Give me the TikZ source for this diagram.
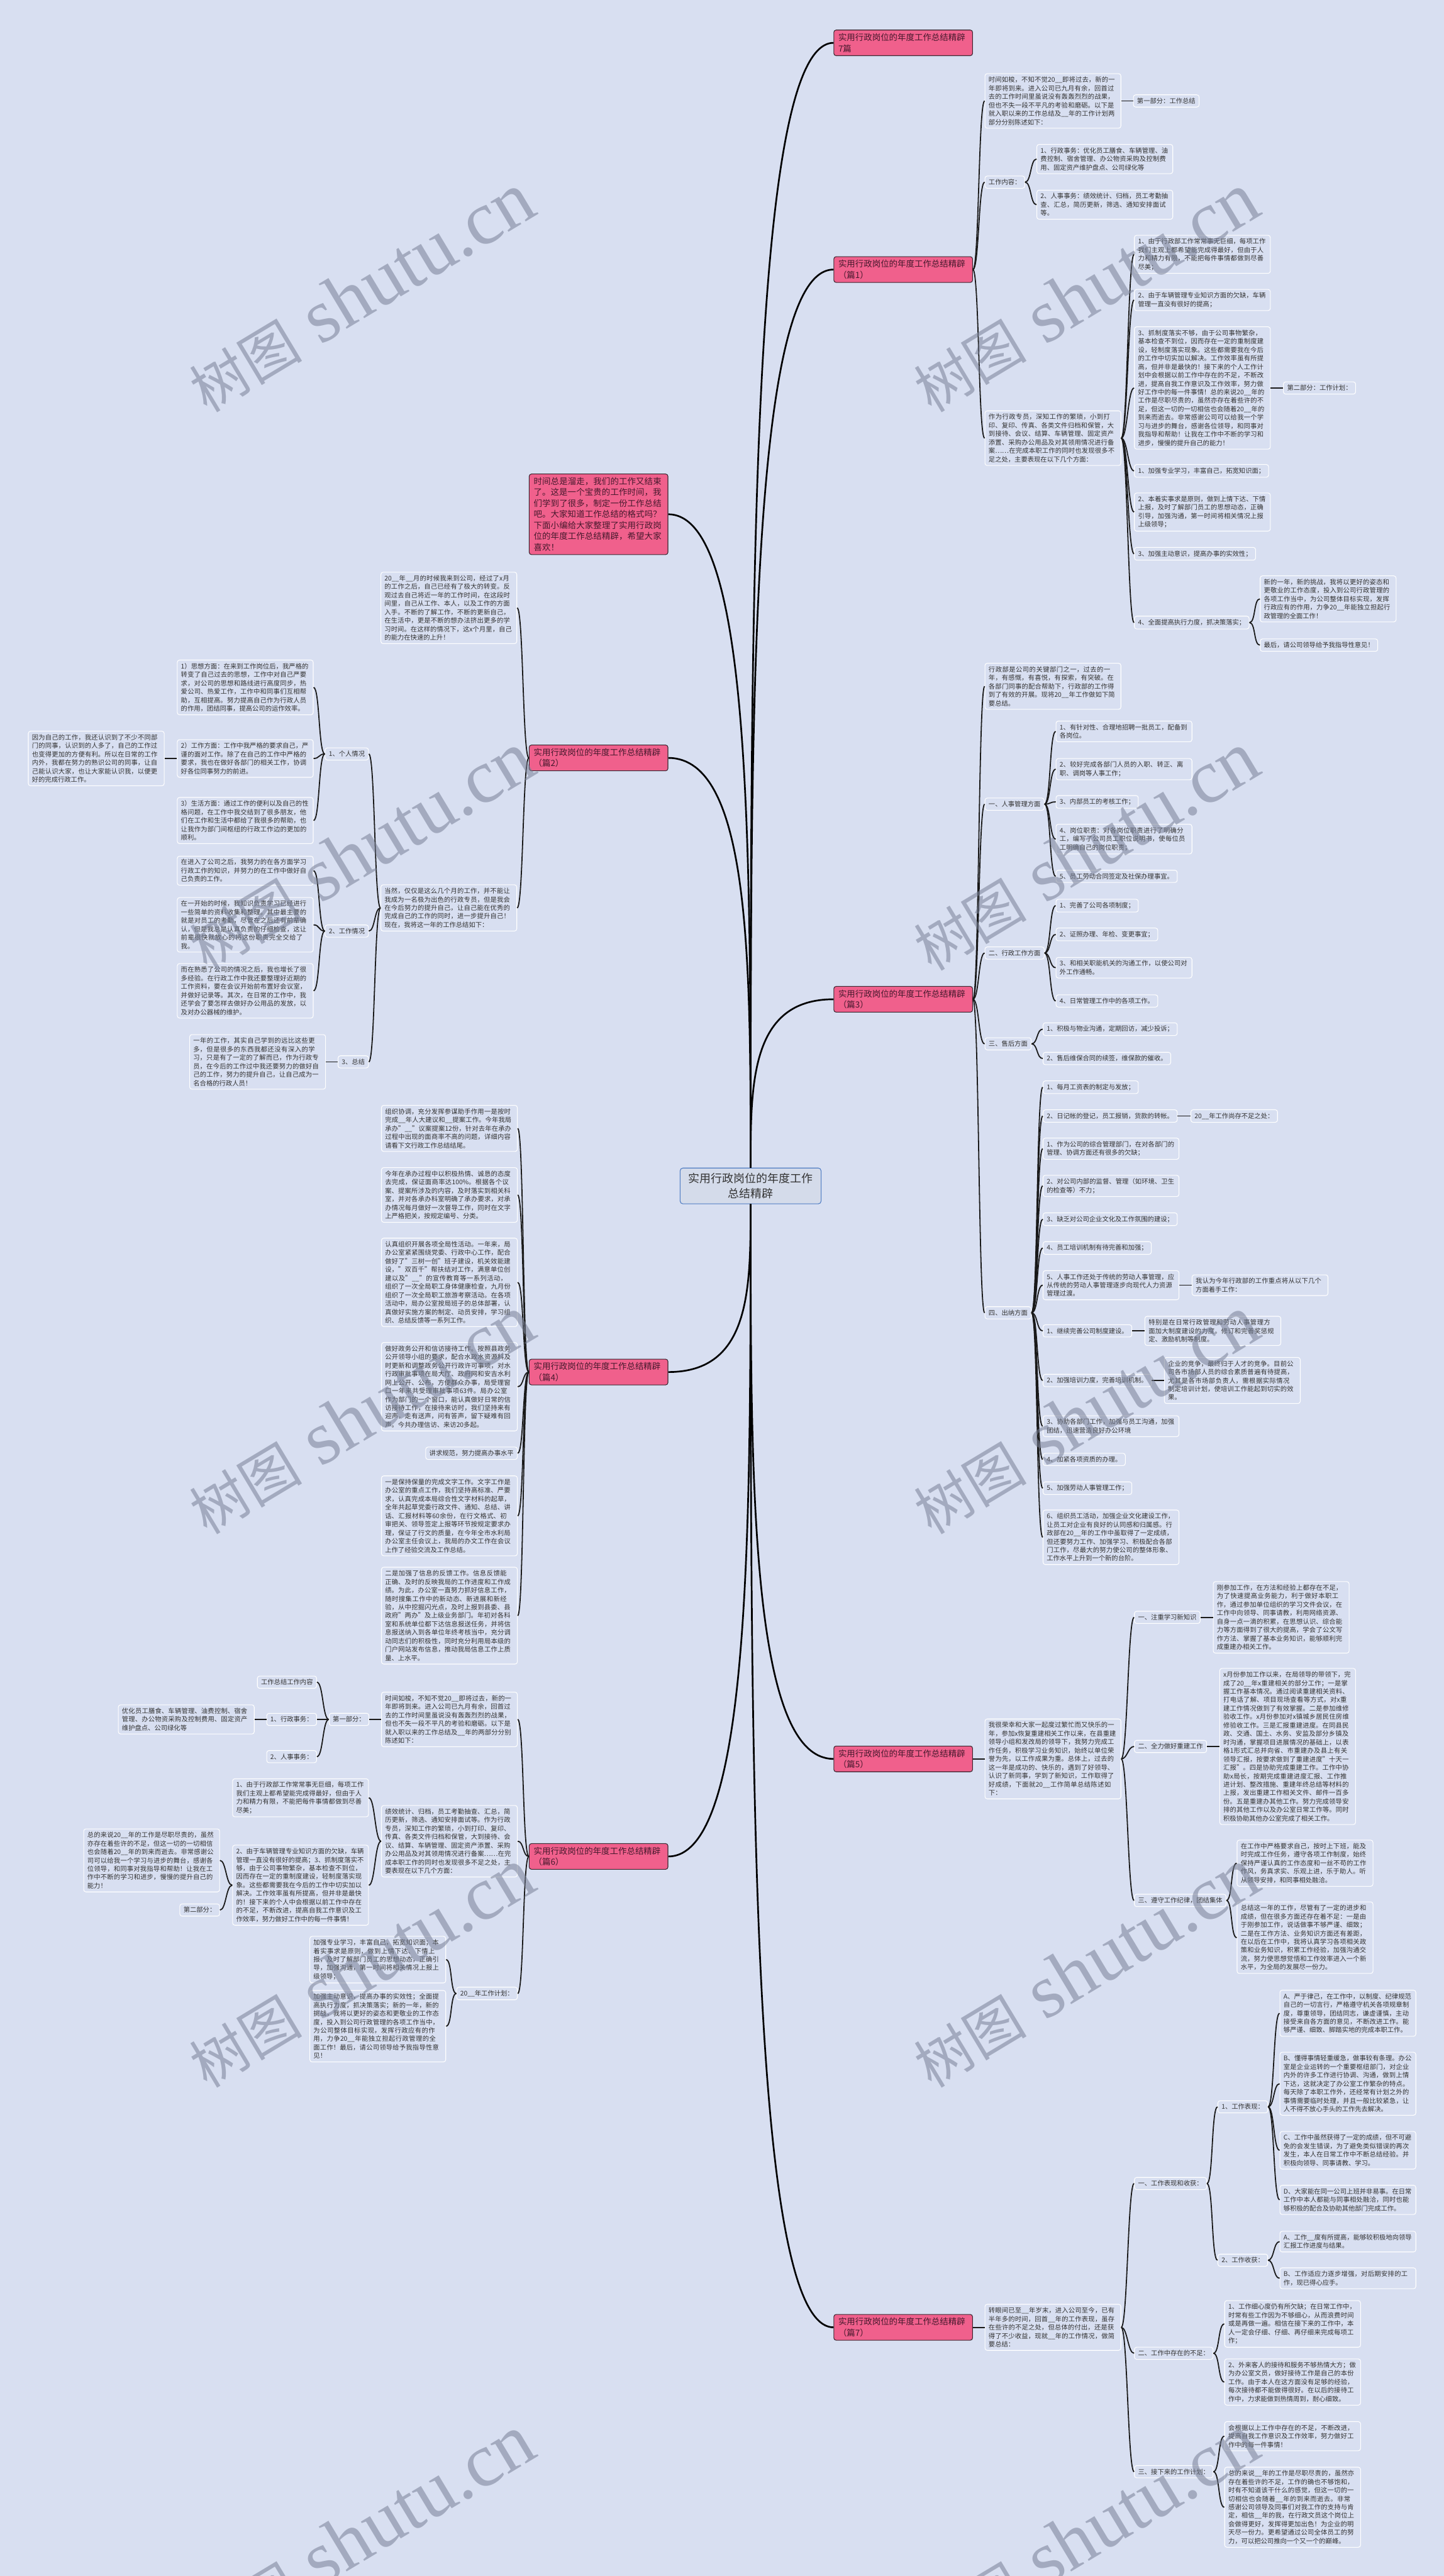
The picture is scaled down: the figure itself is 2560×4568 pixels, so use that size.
\documentclass[tikz,border=0pt]{standalone}
\usepackage{fontspec}
\setmainfont{Noto Sans CJK SC}
\newfontfamily\wmfont{Liberation Serif}
\usetikzlibrary{positioning}
\XeTeXlinebreaklocale "zh"
\XeTeXlinebreakskip=0pt plus 1pt

\definecolor{bgcol}{RGB}{216,223,241}
\definecolor{pinkc}{RGB}{240,96,140}
\definecolor{hdrline}{RGB}{60,40,50}
\definecolor{hdrtext}{RGB}{70,25,45}
\definecolor{rootfill}{RGB}{212,219,234}
\definecolor{rootline}{RGB}{80,125,195}
\definecolor{txt}{RGB}{51,51,51}
\definecolor{wmcol}{RGB}{120,128,150}

\tikzset{hdrbox/.style = {rectangle, rounded corners=4pt, draw=hdrline, line width=1.2pt,
                          fill=pinkc, text=hdrtext, text width=230pt, align=left,
                          inner xsep=8pt, inner ysep=6pt, font=\fontsize{15}{19.5}\selectfont}}
\tikzset{rootbox/.style = {rectangle, rounded corners=5pt, draw=rootline, line width=1.2pt,
                           fill=rootfill, text=txt, align=center, inner xsep=15pt, inner ysep=9pt,
                           font=\fontsize{20}{27}\selectfont}}
\tikzset{tagbox/.style = {rectangle, rounded corners=4pt, draw=white, line width=1.2pt,
                          fill=bgcol, text=txt, inner xsep=6.5pt, inner ysep=5.5pt,
                          font=\fontsize{11.5}{15}\selectfont}}
\tikzset{leafbox/.style = {tagbox, text width=228pt, align=left}}
\tikzset{linkline/.style = {line width=2pt, draw=black!90}}
\tikzset{trunkline/.style = {line width=3pt, draw=black}}
\tikzset{wmark/.style = {rotate=31, text=wmcol, opacity=0.55, inner sep=0pt}}

\begin{document}
\begin{tikzpicture}[x=1pt, y=-1pt]
      \fill [bgcol] (0, 0) rectangle (2560, 4568);
      \useasboundingbox (0, 0) rectangle (2560, 4568);

      \node [rootbox] (root) at (1331, 2103) {实用行政岗位的年度工作\\总结精辟};

      \node [hdrbox, anchor=west] (h0) at (1478, 76) {实用行政岗位的年度工作总结精辟\\7篇};
      \node [hdrbox, anchor=west] (h1) at (1478, 478) {实用行政岗位的年度工作总结精辟\\（篇1）};
      \node [hdrbox, anchor=west] (h3) at (1478, 1772) {实用行政岗位的年度工作总结精辟\\（篇3）};
      \node [hdrbox, anchor=west] (h5) at (1478, 3119) {实用行政岗位的年度工作总结精辟\\（篇5）};
      \node [hdrbox, anchor=west] (h7) at (1478, 4127) {实用行政岗位的年度工作总结精辟\\（篇7）};
      \node [hdrbox, anchor=east] (intro) at (1185, 912) {时间总是溜走，我们的工作又结束了。这是一个宝贵的工作时间，我们学到了很多，制定一份工作总结吧。大家知道工作总结的格式吗？下面小编给大家整理了实用行政岗位的年度工作总结精辟，希望大家喜欢！};
      \node [hdrbox, anchor=east] (h2) at (1185, 1344) {实用行政岗位的年度工作总结精辟\\（篇2）};
      \node [hdrbox, anchor=east] (h4) at (1185, 2433) {实用行政岗位的年度工作总结精辟\\（篇4）};
      \node [hdrbox, anchor=east] (h6) at (1185, 3292) {实用行政岗位的年度工作总结精辟\\（篇6）};

      % 篇1
      \node [leafbox, anchor=west] (a1) at (1746, 179) {时间如梭，不知不觉20\_\_即将过去，新的一年即将到来。进入公司已九月有余，回首过去的工作时间里虽说没有轰轰烈烈的战果，但也不失一段不平凡的考验和磨砺。以下是就入职以来的工作总结及\_\_年的工作计划两部分分别陈述如下：};
      \node [tagbox, right=21pt of a1] (a1x) {第一部分：工作总结};
      \node [tagbox, anchor=west] (b1) at (1746, 323) {工作内容：};
      \node [leafbox, anchor=west] (b1a) at (1838, 282) {1、行政事务：优化员工膳食、车辆管理、油费控制、宿舍管理、办公物资采购及控制费用、固定资产维护盘点、公司绿化等};
      \node [leafbox, anchor=west] (b1b) at (1838, 363) {2、人事事务：绩效统计、归档，员工考勤抽查、汇总，简历更新，筛选、通知安排面试等。};
      \node [leafbox, anchor=west] (c1) at (1746, 777) {作为行政专员，深知工作的繁琐，小到打印、复印、传真、各类文件归档和保管，大到接待、会议、结算、车辆管理、固定资产添置、采购办公用品及对其领用情况进行备案……在完成本职工作的同时也发现很多不足之处，主要表现在以下几个方面：};
      \node [leafbox, anchor=west] (c1a) at (2011, 451) {1、由于行政部工作常常事无巨细，每项工作我们主观上都希望能完成得最好，但由于人力和精力有限，不能把每件事情都做到尽善尽美；};
      \node [leafbox, anchor=west] (c1b) at (2011, 532) {2、由于车辆管理专业知识方面的欠缺，车辆管理一直没有很好的提高；};
      \node [leafbox, anchor=west] (c1c) at (2011, 688) {3、抓制度落实不够，由于公司事物繁杂，基本检查不到位，因而存在一定的重制度建设，轻制度落实现象。这些都需要我在今后的工作中切实加以解决。工作效率虽有所提高，但并非是最快的！接下来的个人工作计划中会根据以前工作中存在的不足，不断改进，提高自我工作意识及工作效率，努力做好工作中的每一件事情！总的来说20\_\_年的工作是尽职尽责的，虽然亦存在着些许的不足，但这一切的一切相信也会随着20\_\_年的到来而逝去。非常感谢公司可以给我一个学习与进步的舞台，感谢各位领导，和同事对我指导和帮助！让我在工作中不断的学习和进步，慢慢的提升自己的能力！};
      \node [tagbox, right=22pt of c1c] (c1cx) {第二部分：工作计划：};
      \node [tagbox, anchor=west] (c1d) at (2011, 835) {1、加强专业学习，丰富自己，拓宽知识面；};
      \node [leafbox, anchor=west] (c1e) at (2011, 908) {2、本着实事求是原则，做到上情下达、下情上报，及时了解部门员工的思想动态，正确引导，加强沟通，第一时间将相关情况上报上级领导；};
      \node [tagbox, anchor=west] (c1f) at (2011, 982) {3、加强主动意识，提高办事的实效性；};
      \node [tagbox, anchor=west] (c1g) at (2011, 1104) {4、全面提高执行力度，抓决策落实；};
      \node [leafbox, anchor=west] (c1ga) at (2234, 1062) {新的一年，新的挑战，我将以更好的姿态和更敬业的工作态度，投入到公司行政管理的各项工作当中，为公司整体目标实现，发挥行政应有的作用，力争20\_\_年能独立担起行政管理的全面工作！};
      \node [tagbox, anchor=west] (c1gb) at (2234, 1144) {最后，请公司领导给予我指导性意见！};

      % 篇3
      \node [leafbox, anchor=west] (a3) at (1746, 1217) {行政部是公司的关键部门之一，过去的一年，有感慨，有喜悦，有探索，有突破。在各部门同事的配合帮助下，行政部的工作得到了有效的开展。现将20\_\_年工作做如下简要总结。};
      \node [tagbox, anchor=west] (b3) at (1746, 1426) {一、人事管理方面};
      \node [leafbox, anchor=west] (b3a) at (1872, 1297) {1、有针对性、合理地招聘一批员工，配备到各岗位。};
      \node [leafbox, anchor=west] (b3b) at (1872, 1364) {2、较好完成各部门人员的入职、转正、离职、调岗等人事工作；};
      \node [tagbox, anchor=west] (b3c) at (1872, 1422) {3、内部员工的考核工作；};
      \node [leafbox, anchor=west] (b3d) at (1872, 1488) {4、岗位职责：对各岗位职责进行了明确分工，编写了公司员工职位说明书，使每位员工明确自己的岗位职责；};
      \node [tagbox, anchor=west] (b3e) at (1872, 1554) {5、员工劳动合同签定及社保办理事宜。};
      \node [tagbox, anchor=west] (c3) at (1746, 1690) {二、行政工作方面};
      \node [tagbox, anchor=west] (c3a) at (1872, 1606) {1、完善了公司各项制度；};
      \node [tagbox, anchor=west] (c3b) at (1872, 1657) {2、证照办理、年检、变更事宜；};
      \node [leafbox, anchor=west] (c3c) at (1872, 1716) {3、和相关职能机关的沟通工作，以使公司对外工作通畅。};
      \node [tagbox, anchor=west] (c3d) at (1872, 1775) {4、日常管理工作中的各项工作。};
      \node [tagbox, anchor=west] (d3) at (1746, 1851) {三、售后方面};
      \node [tagbox, anchor=west] (d3a) at (1849, 1825) {1、积极与物业沟通，定期回访，减少投诉；};
      \node [tagbox, anchor=west] (d3b) at (1849, 1877) {2、售后维保合同的续签，维保款的催收。};
      \node [tagbox, anchor=west] (e3) at (1746, 2328) {四、出纳方面};
      \node [tagbox, anchor=west] (e3a) at (1849, 1928) {1、每月工资表的制定与发放；};
      \node [tagbox, anchor=west] (e3b) at (1849, 1979) {2、日记帐的登记，员工报销，货款的转帐。};
      \node [tagbox, right=23pt of e3b] (e3bx) {20\_\_年工作尚存不足之处：};
      \node [leafbox, anchor=west] (e3c) at (1849, 2037) {1、作为公司的综合管理部门，在对各部门的管理、协调方面还有很多的欠缺；};
      \node [leafbox, anchor=west] (e3d) at (1849, 2103) {2、对公司内部的监督、管理（如环境、卫生的检查等）不力；};
      \node [tagbox, anchor=west] (e3e) at (1849, 2162) {3、缺乏对公司企业文化及工作氛围的建设；};
      \node [tagbox, anchor=west] (e3f) at (1849, 2213) {4、员工培训机制有待完善和加强；};
      \node [leafbox, anchor=west] (e3g) at (1849, 2279) {5、人事工作还处于传统的劳动人事管理，应从传统的劳动人事管理逐步向现代人力资源管理过渡。};
      \node [leafbox, right=22pt of e3g] (e3gx) {我认为今年行政部的工作重点将从以下几个方面着手工作：};
      \node [tagbox, anchor=west] (e3h) at (1849, 2360) {1、继续完善公司制度建设。};
      \node [leafbox, right=22pt of e3h] (e3hx) {特别是在日常行政管理和劳动人事管理方面加大制度建设的力度。修订和完善奖惩规定、激励机制等制度。};
      \node [tagbox, anchor=west] (e3i) at (1849, 2448) {2、加强培训力度，完善培训机制。};
      \node [leafbox, right=22pt of e3i] (e3ix) {企业的竞争，最终归于人才的竞争。目前公司各市场部人员的综合素质普遍有待提高，尤其是各市场部负责人，需根据实际情况制定培训计划，使培训工作能起到切实的效果。};
      \node [leafbox, anchor=west] (e3j) at (1849, 2529) {3、协助各部门工作，加强与员工沟通，加强团结，迅速营造良好办公环境};
      \node [tagbox, anchor=west] (e3k) at (1849, 2588) {4、加紧各项资质的办理。};
      \node [tagbox, anchor=west] (e3l) at (1849, 2639) {5、加强劳动人事管理工作；};
      \node [leafbox, anchor=west] (e3m) at (1849, 2726) {6、组织员工活动，加强企业文化建设工作，让员工对企业有良好的认同感和归属感。行政部在20\_\_年的工作中虽取得了一定成绩，但还要努力工作、加强学习、积极配合各部门工作，尽最大的努力使公司的整体形象、工作水平上升到一个新的台阶。};

      % 篇5
      \node [leafbox, anchor=west] (a5) at (1746, 3119) {我很荣幸和大家一起度过繁忙而又快乐的一年，参加x恢复重建相关工作以来，在县重建领导小组和发改局的领导下，我努力完成工作任务，积极学习业务知识，始终以单位荣誉为先，以工作成果为重。总体上，过去的这一年是成功的、快乐的，遇到了好领导、认识了新同事，学到了新知识，工作取得了好成绩，下面就20\_\_工作简单总结陈述如下：};
      \node [tagbox, anchor=west] (a5a) at (2011, 2868) {一、注重学习新知识};
      \node [leafbox, right=22pt of a5a] (a5ax) {刚参加工作，在方法和经验上都存在不足，为了快速提高业务能力，利于做好本职工作，通过参加单位组织的学习文件会议，在工作中向领导、同事请教，利用网络资源、自身一点一滴的积累，在思想认识、综合能力等方面得到了很大的提高，学会了公文写作方法、掌握了基本业务知识，能够顺利完成重建办相关工作。};
      \node [tagbox, anchor=west] (a5b) at (2011, 3097) {二、全力做好重建工作};
      \node [leafbox, right=22pt of a5b] (a5bx) {x月份参加工作以来，在局领导的带领下，完成了20\_\_年x重建相关的部分工作；一是掌握工作基本情况。通过阅读重建相关资料、打电话了解、项目现场查看等方式，对x重建工作情况做到了有效掌握。二是参加维修验收工作。x月份参加对x镇城乡居民住房维修验收工作。三是汇报重建进度。在同县民政、交通、国土、水务、安监及部分乡镇及时沟通，掌握项目进展情况的基础上，以表格1形式汇总并向省、市重建办及县上有关领导汇报，按要求做到了重建进度"十天一汇报"。四是协助完成重建工作。工作中协助x局长，按期完成重建进度汇报、工作推进计划、整改措施、重建年终总结等材料的上报，发出重建工作相关文件、邮件一百多份。五是重建办其他工作。努力完成领导安排的其他工作以及办公室日常工作等。同时积极协助其他办公室完成了相关工作。};
      \node [tagbox, anchor=west] (a5c) at (2011, 3370) {三、遵守工作纪律，团结集体};
      \node [leafbox, anchor=west] (a5c1) at (2193, 3304) {在工作中严格要求自己，按时上下班，能及时完成工作任务，遵守各项工作制度，始终保持严谨认真的工作态度和一丝不苟的工作作风，务真求实、乐观上进，乐于助人。听从领导安排，和同事相处融洽。};
      \node [leafbox, anchor=west] (a5c2) at (2193, 3436) {总结这一年的工作，尽管有了一定的进步和成绩，但在很多方面还存在着不足：一是由于刚参加工作，说话做事不够严谨、细致；二是在工作方法、业务知识方面还有差距，在以后在工作中，我将认真学习各项相关政策和业务知识，积累工作经验，加强沟通交流，努力使思想觉悟和工作效率进入一个新水平，为全局的发展尽一份力。};

      % 篇7
      \node [leafbox, anchor=west] (a7) at (1746, 4127) {转眼间已至\_\_年岁末，进入公司至今，已有半年多的时间，回首\_\_年的工作表现，虽存在些许的不足之处，但总体的付出，还是获得了不少收益，现就\_\_年的工作情况，做简要总结：};
      \node [tagbox, anchor=west] (b7) at (2011, 3872) {一、工作表现和收获：};
      \node [tagbox, anchor=west] (b7a) at (2159, 3736) {1、工作表现：};
      \node [leafbox, anchor=west] (b7a1) at (2269, 3570) {A、严于律己，在工作中，以制度、纪律规范自己的一切言行，严格遵守机关各项规章制度，尊重领导，团结同志，谦虚谨慎，主动接受来自各方面的意见，不断改进工作。能够严谨、细致、脚踏实地的完成本职工作。};
      \node [leafbox, anchor=west] (b7a2) at (2269, 3695) {B、懂得事情轻重缓急，做事较有条理。办公室是企业运转的一个重要枢纽部门，对企业内外的许多工作进行协调、沟通，做到上情下达，这就决定了办公室工作繁杂的特点。每天除了本职工作外，还经常有计划之外的事情需要临时处理，并且一般比较紧急，让人不得不放心手头的工作先去解决。};
      \node [leafbox, anchor=west] (b7a3) at (2269, 3813) {C、工作中虽然获得了一定的成绩，但不可避免的会发生错误，为了避免类似错误的再次发生，本人在日常工作中不断总结经验。并积极向领导、同事请教、学习。};
      \node [leafbox, anchor=west] (b7a4) at (2269, 3901) {D、大家能在同一公司上班并非易事。在日常工作中本人都能与同事相处融洽，同时也能够积极的配合及协助其他部门完成工作。};
      \node [tagbox, anchor=west] (b7b) at (2159, 4008) {2、工作收获：};
      \node [leafbox, anchor=west] (b7b1) at (2269, 3975) {A、工作\_\_度有所提高，能够较积极地向领导汇报工作进度与结果。};
      \node [leafbox, anchor=west] (b7b2) at (2269, 4040) {B、工作适应力逐步增强，对后期安排的工作，现已得心应手。};
      \node [tagbox, anchor=west] (c7) at (2011, 4173) {二、工作中存在的不足：};
      \node [leafbox, anchor=west] (c7a) at (2171, 4121) {1、工作细心度仍有所欠缺；在日常工作中，时常有些工作因为不够细心，从而浪费时间或是再做一遍。相信在接下来的工作中，本人一定会仔细、仔细、再仔细来完成每项工作；};
      \node [leafbox, anchor=west] (c7b) at (2171, 4224) {2、外来客人的接待和服务不够热情大方；做为办公室文员，做好接待工作是自己的本份工作。由于本人在这方面没有足够的经验，每次接待都不能做得很好。在以后的接待工作中，力求能做到热情周到，耐心细致。};
      \node [tagbox, anchor=west] (d7) at (2011, 4383) {三、接下来的工作计划：};
      \node [leafbox, anchor=west] (d7a) at (2171, 4320) {会根据以上工作中存在的不足，不断改进，提高自我工作意识及工作效率，努力做好工作中的每一件事情！};
      \node [leafbox, anchor=west] (d7b) at (2171, 4446) {总的来说\_\_年的工作是尽职尽责的，虽然亦存在着些许的不足，工作的确也不够饱和，时有不知道该干什么的感觉，但这一切的一切相信也会随着\_\_年的到来而逝去。非常感谢公司领导及同事们对我工作的支持与肯定，相信\_\_年的我，在行政文员这个岗位上会做得更好，发挥得更加出色！为企业的明天尽一份力。更希望通过公司全体员工的努力，可以把公司推向一个又一个的巅峰。};

      % 篇2
      \node [leafbox, anchor=east] (a2) at (917, 1078) {20\_\_年\_\_月的时候我来到公司，经过了x月的工作之后，自己已经有了极大的转变。反观过去自己将近一年的工作时间，在这段时间里，自己从工作、本人，以及工作的方面入手。不断的了解工作，不断的更新自己，在生活中，更是不断的想办法挤出更多的学习时间。在这样的情况下，这x个月里，自己的能力在快速的上升！};
      \node [leafbox, anchor=east] (b2) at (917, 1610) {当然，仅仅是这么几个月的工作，并不能让我成为一名极为出色的行政专员，但是我会在今后努力的提升自己，让自己能在优秀的完成自己的工作的同时，进一步提升自己！现在，我将这一年的工作总结如下：};
      \node [tagbox, anchor=east] (b2a) at (654, 1337) {1、个人情况};
      \node [leafbox, anchor=east] (b2a1) at (556, 1219) {1）思想方面：在来到工作岗位后，我严格的转变了自己过去的思想，工作中对自己严要求，对公司的思想和路线进行高度同步，热爱公司、热爱工作，工作中和同事们互相帮助，互相提高。努力提高自己作为行政人员的作用，团结同事，提高公司的运作效率。};
      \node [leafbox, anchor=east] (b2a2) at (556, 1345) {2）工作方面：工作中我严格的要求自己，严谨的面对工作。除了在自己的工作中严格的要求，我也在做好各部门的相关工作，协调好各位同事努力的前进。};
      \node [leafbox, left=22pt of b2a2] (b2a2x) {因为自己的工作，我还认识到了不少不同部门的同事，认识到的人多了，自己的工作过也变得更加的方便有利。所以在日常的工作内外，我都在努力的熟识公司的同事，让自己能认识大家，也让大家能认识我，以便更好的完成行政工作。};
      \node [leafbox, anchor=east] (b2a3) at (556, 1455) {3）生活方面：通过工作的便利以及自己的性格问题，在工作中我交结到了很多朋友，他们在工作和生活中都给了我很多的帮助，也让我作为部门间枢纽的行政工作边的更加的顺利。};
      \node [tagbox, anchor=east] (b2b) at (654, 1651) {2、工作情况};
      \node [leafbox, anchor=east] (b2b1) at (556, 1544) {在进入了公司之后，我努力的在各方面学习行政工作的知识，并努力的在工作中做好自己负责的工作。};
      \node [leafbox, anchor=east] (b2b2) at (556, 1640) {在一开始的时候，我知识负责学习已经进行一些简单的资料收集和整理。其中最主要的就是对员工的考勤，尽管在之后还有前辈确认，但是我总是认真负责的仔细检查，这让前辈很快就放心的将这份职责完全交给了我。};
      \node [leafbox, anchor=east] (b2b3) at (556, 1757) {而在熟悉了公司的情况之后，我也增长了很多经验。在行政工作中我还要整理好近期的工作资料，要在会议开始前布置好会议室，并做好记录等。其次，在日常的工作中，我还学会了要怎样去做好办公用品的发放，以及对办公器械的维护。};
      \node [tagbox, anchor=east] (b2c) at (654, 1883) {3、总结};
      \node [leafbox, left=21pt of b2c] (b2cx) {一年的工作，其实自己学到的远比这些更多，但是很多的东西我都还没有深入的学习，只是有了一定的了解而已，作为行政专员，在今后的工作过中我还要努力的做好自己的工作，努力的提升自己，让自己成为一名合格的行政人员！};

      % 篇4
      \node [leafbox, anchor=east] (a4) at (918, 2001) {组织协调，充分发挥参谋助手作用一是按时完成\_\_年人大建议和\_\_提案工作。今年我局承办"\_\_"议案提案12份，针对去年在承办过程中出现的面商率不高的问题，详细内容请看下文行政工作总结结尾。};
      \node [leafbox, anchor=east] (b4) at (918, 2119) {今年在承办过程中以积极热情、诚恳的态度去完成，保证面商率达100\%。根据各个议案、提案所涉及的内容，及时落实到相关科室，并对各承办科室明确了承办要求，对承办情况每月做好一次督导工作，同时在文字上严格把关，按规定编号、分类。};
      \node [leafbox, anchor=east] (c4) at (918, 2274) {认真组织开展各项全局性活动。一年来，局办公室紧紧围绕党委、行政中心工作，配合做好了"三树一创"班子建设，机关效能建设，"双百千"帮扶结对工作，满意单位创建以及"\_\_"的宣传教育等一系列活动，组织了一次全局职工身体健康检查，九月份组织了一次全局职工旅游考察活动。在各项活动中，局办公室按局班子的总体部署，认真做好实施方案的制定、动员安排，学习组织、总结反馈等一系列工作。};
      \node [leafbox, anchor=east] (d4) at (918, 2459) {做好政务公开和信访接待工作。按照县政务公开领导小组的要求，配合水政水资源科及时更新和调整政务公开行政许可事项，对水行政审批事项在局大厅、政府网和安吉水利网上公开、公布，方便群众办事，局受理窗口一年来共受理审批事项63件。局办公室作为部门的一个窗口，能认真做好日常的信访接待工作，在接待来访时，我们坚持来有迎声，走有送声，问有答声，留下疑难有回声。今共办理信访、来访20多起。};
      \node [tagbox, anchor=east] (e4) at (918, 2577) {讲求规范，努力提高办事水平};
      \node [leafbox, anchor=east] (f4) at (918, 2688) {一是保持保量的完成文字工作。文字工作是办公室的重点工作，我们坚持高标准、严要求，认真完成本局综合性文字材料的起草，全年共起草党委行政文件、通知、总结、讲话、汇报材料等60余份，在行文格式、初审把关、领导签定上报等环节按规定要求办理，保证了行文的质量，在今年全市水利局办公室主任会议上，我局的办文工作在会议上作了经验交流及工作总结。};
      \node [leafbox, anchor=east] (g4) at (918, 2865) {二是加强了信息的反馈工作。信息反馈能正确、及时的反映我局的工作进度和工作成绩。为此，办公室一直努力抓好信息工作，随时搜集工作中的新动态、新进展和新经验，从中挖掘闪光点，及时上报到县委、县政府"两办"及上级业务部门。年初对各科室和系统单位都下达信息报送任务，并将信息报送纳入到各单位年终考核当中，充分调动同志们的积极性，同时充分利用局本级的门户网站发布信息，推动我局信息工作上质量、上水平。};

      % 篇6
      \node [leafbox, anchor=east] (a6) at (918, 3049) {时间如梭，不知不觉20\_\_即将过去，新的一年即将到来。进入公司已九月有余，回首过去的工作时间里虽说没有轰轰烈烈的战果，但也不失一段不平凡的考验和磨砺。以下是就入职以来的工作总结及\_\_年的两部分分别陈述如下：};
      \node [tagbox, left=21pt of a6] (a6x) {第一部分：};
      \node [tagbox, anchor=east] (a6x1) at (562, 2983) {工作总结工作内容};
      \node [tagbox, anchor=east] (a6x2) at (562, 3049) {1、行政事务：};
      \node [leafbox, left=21pt of a6x2] (a6x2x) {优化员工膳食、车辆管理、油费控制、宿舍管理、办公物资采购及控制费用、固定资产维护盘点、公司绿化等};
      \node [tagbox, anchor=east] (a6x3) at (562, 3115) {2、人事事务：};
      \node [leafbox, anchor=east] (b6) at (918, 3265) {绩效统计、归档，员工考勤抽查、汇总，简历更新，筛选、通知安排面试等。作为行政专员，深知工作的繁琐，小到打印、复印、传真、各类文件归档和保管，大到接待、会议、结算、车辆管理、固定资产添置、采购办公用品及对其领用情况进行备案……在完成本职工作的同时也发现很多不足之处，主要表现在以下几个方面：};
      \node [leafbox, anchor=east] (b6a) at (654, 3188) {1、由于行政部工作常常事无巨细，每项工作我们主观上都希望能完成得最好，但由于人力和精力有限，不能把每件事情都做到尽善尽美；};
      \node [leafbox, anchor=east] (b6b) at (654, 3343) {2、由于车辆管理专业知识方面的欠缺，车辆管理一直没有很好的提高；3、抓制度落实不够，由于公司事物繁杂，基本检查不到位，因而存在一定的重制度建设，轻制度落实现象。这些都需要我在今后的工作中切实加以解决。工作效率虽有所提高，但并非是最快的！接下来的个人中会根据以前工作中存在的不足，不断改进，提高自我工作意识及工作效率，努力做好工作中的每一件事情！};
      \node [leafbox, anchor=east] (b6b1) at (390, 3299) {总的来说20\_\_年的工作是尽职尽责的，虽然亦存在着些许的不足，但这一切的一切相信也会随着20\_\_年的到来而逝去。非常感谢公司可以给我一个学习与进步的舞台，感谢各位领导，和同事对我指导和帮助！让我在工作中不断的学习和进步，慢慢的提升自己的能力！};
      \node [tagbox, anchor=east] (b6b2) at (390, 3387) {第二部分：};
      \node [tagbox, anchor=east] (c6) at (918, 3535) {20\_\_年工作计划：};
      \node [leafbox, anchor=east] (c6a) at (791, 3475) {加强专业学习，丰富自己，拓宽知识面；本着实事求是原则，做到上情下达、下情上报，及时了解部门员工的思想动态，正确引导，加强沟通，第一时间将相关情况上报上级领导；};
      \node [leafbox, anchor=east] (c6b) at (791, 3593) {加强主动意识，提高办事的实效性；全面提高执行力度，抓决策落实；新的一年，新的挑战，我将以更好的姿态和更敬业的工作态度，投入到公司行政管理的各项工作当中，为公司整体目标实现，发挥行政应有的作用，力争20\_\_年能独立担起行政管理的全面工作！最后，请公司领导给予我指导性意见！};

      % trunk
      \foreach \hd/\cy in {h0/-1000, h1/-800, h3/-150}
        \draw [trunkline] (root.north) .. controls +(0, \cy) and +(-147, 0) .. (\hd.west);
      \foreach \hd/\cy in {intro/-580, h2/-360}
        \draw [trunkline] (root.north) .. controls +(0, \cy) and +(146, 0) .. (\hd.east);
      \foreach \hd/\cy in {h5/490, h7/1000}
        \draw [trunkline] (root.south) .. controls +(0, \cy) and +(-147, 0) .. (\hd.west);
      \foreach \hd/\cy in {h4/150, h6/580}
        \draw [trunkline] (root.south) .. controls +(0, \cy) and +(146, 0) .. (\hd.east);

      \foreach \pa/\ch in {h1/a1, a1/a1x, h1/b1, b1/b1a, b1/b1b, h1/c1, c1/c1a, c1/c1b, c1/c1c,
                           c1c/c1cx, c1/c1d, c1/c1e, c1/c1f, c1/c1g, c1g/c1ga, c1g/c1gb,
                           h3/a3, h3/b3, b3/b3a, b3/b3b, b3/b3c, b3/b3d, b3/b3e,
                           h3/c3, c3/c3a, c3/c3b, c3/c3c, c3/c3d, h3/d3, d3/d3a, d3/d3b,
                           h3/e3, e3/e3a, e3/e3b, e3/e3c, e3/e3d, e3/e3e, e3/e3f, e3/e3g,
                           e3/e3h, e3/e3i, e3/e3j, e3/e3k, e3/e3l, e3/e3m,
                           e3b/e3bx, e3g/e3gx, e3h/e3hx, e3i/e3ix,
                           h5/a5, a5/a5a, a5/a5b, a5/a5c, a5a/a5ax, a5b/a5bx, a5c/a5c1, a5c/a5c2,
                           h7/a7, a7/b7, a7/c7, a7/d7, b7/b7a, b7/b7b, b7a/b7a1, b7a/b7a2,
                           b7a/b7a3, b7a/b7a4, b7b/b7b1, b7b/b7b2, c7/c7a, c7/c7b, d7/d7a, d7/d7b}
        \draw [linkline] (\pa.east) .. controls +(11, 0) and +(-11, 0) .. (\ch.west);

      \foreach \pa/\ch in {h2/a2, h2/b2, b2/b2a, b2/b2b, b2/b2c, b2a/b2a1, b2a/b2a2, b2a/b2a3,
                           b2a2/b2a2x, b2b/b2b1, b2b/b2b2, b2b/b2b3, b2c/b2cx,
                           h4/a4, h4/b4, h4/c4, h4/d4, h4/e4, h4/f4, h4/g4,
                           h6/a6, a6/a6x, a6x/a6x1, a6x/a6x2, a6x/a6x3, a6x2/a6x2x,
                           h6/b6, b6/b6a, b6/b6b, b6b/b6b1, b6b/b6b2, h6/c6, c6/c6a, c6/c6b}
        \draw [linkline] (\pa.west) .. controls +(-11, 0) and +(11, 0) .. (\ch.east);

      % watermarks
      \foreach \wx in {640, 1925}
        \foreach \wy in {519, 1510, 2509, 3490, 4495}
          \node [wmark] at (\wx, \wy) {{\fontsize{100}{100}\selectfont 树图}\hspace{34pt}{\wmfont\fontsize{135}{135}\selectfont shutu.cn}};
    \end{tikzpicture}
\end{document}
